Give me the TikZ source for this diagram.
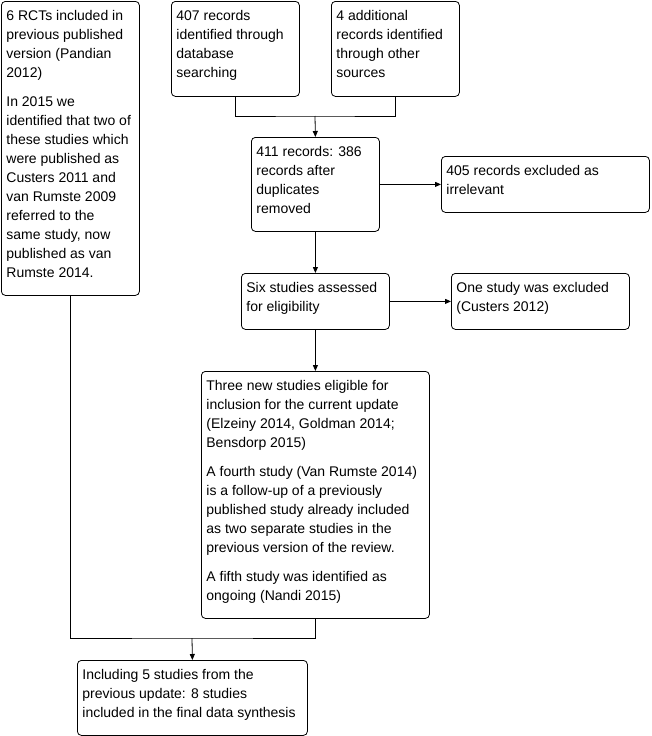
\documentclass[tikz,border=0pt]{standalone}
\usepackage{fontspec}
\setmainfont{Liberation Sans}
\usetikzlibrary{arrows.meta}
\newcommand{\boxtext}[3]{\parbox[t][#2pt][t]{#1pt}{\strut#3}}

\begin{document}
\begin{tikzpicture}[x=1pt, y=-1pt,
        every node/.style={font=\fontsize{14}{19}\selectfont},
        flowbox/.style={draw, rounded corners=4pt, anchor=north west,
            inner xsep=5pt, inner ysep=6pt, line width=0.8pt},
        flowarrow/.style={-{Triangle[length=6pt,width=5pt]}, line width=0.8pt},
        flowline/.style={line width=0.8pt}]
      \useasboundingbox (0,0) rectangle (652,736);
      \node[flowbox] (prev) at (1,1) {\boxtext{128}{282}{6 RCTs included in\\previous published\\version (Pandian\\2012)\\[10pt]In 2015 we\\identified that two of\\these studies which\\were published as\\Custers 2011 and\\van Rumste 2009\\referred to the\\same study, now\\published as van\\Rumste 2014.}};
      \node[flowbox] (dbase) at (171,1) {\boxtext{118}{83}{407 records\\identified through\\database\\searching}};
      \node[flowbox] (other) at (331,1) {\boxtext{118}{83}{4 additional\\records identified\\through other\\sources}};
      \node[flowbox] (dedup) at (251,137) {\boxtext{118}{82}{411 records: 386\\records after\\duplicates\\removed}};
      \node[flowbox] (irrel) at (441,156) {\boxtext{198}{44}{405 records excluded as\\irrelevant}};
      \node[flowbox] (elig) at (241,273) {\boxtext{138}{44}{Six studies assessed\\for eligibility}};
      \node[flowbox] (excl) at (451,273) {\boxtext{168}{44}{One study was excluded\\(Custers 2012)}};
      \node[flowbox] (new) at (201,371) {\boxtext{218}{235}{Three new studies eligible for\\inclusion for the current update\\(Elzeiny 2014, Goldman 2014;\\Bensdorp 2015)\\[10pt]A fourth study (Van Rumste 2014)\\is a follow-up of a previously\\published study already included\\as two separate studies in the\\previous version of the review.\\[10pt]A fifth study was identified as\\ongoing (Nandi 2015)}};
      \node[flowbox] (final) at (77,660) {\boxtext{220}{63}{Including 5 studies from the\\previous update: 8 studies\\included in the final data synthesis}};
      \coordinate (join1) at (315,116);
      \coordinate (join2) at (192,638);
      \draw[flowline] (dbase.south) |- (join1) -| (other.south);
      \draw[flowarrow] (join1) -- (dedup.north);
      \draw[flowarrow] (dedup.east) -- (irrel.west);
      \draw[flowarrow] (dedup.south) -- (elig.north);
      \draw[flowarrow] (elig.east) -- (excl.west);
      \draw[flowarrow] (elig.south) -- (new.north);
      \draw[flowline] (prev.south) |- (join2) -| (new.south);
      \draw[flowarrow] (join2) -- (final.north);
    \end{tikzpicture}
\end{document}
